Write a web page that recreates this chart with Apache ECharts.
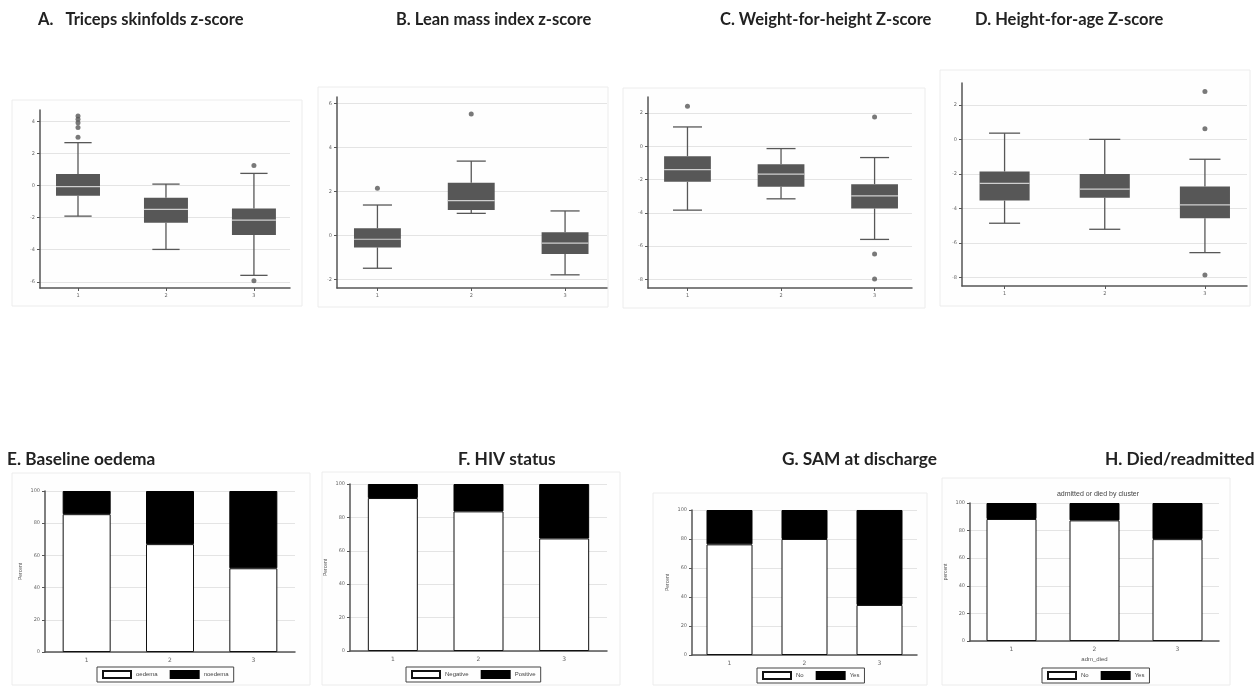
<!DOCTYPE html>
<html>
<head>
<meta charset="utf-8">
<script src="https://cdn.jsdelivr.net/npm/echarts@6/dist/echarts.min.js"></script>
<style>
  html, body { margin: 0; background: #fff; }
  #chart { width: 1260px; height: 690px; }
</style>
</head>
<body>
<div id="chart"></div>
<script>
const clusters = ['1', '2', '3'];
const clusterTicks = [1, 2, 3];

// box plots: [cluster, lower whisker, q1, median, q3, upper whisker]
const tricepsBox = [[1, -1.9, -0.63, -0.06, 0.73, 2.69], [2, -3.98, -2.31, -1.48, -0.75, 0.1], [3, -5.6, -3.08, -2.15, -1.42, 0.77]];
const tricepsOut = [[1, 3.02], [1, 3.63], [1, 3.94], [1, 4.15], [1, 4.35], [3, 1.27], [3, -5.94]];
const leanBox = [[1, -1.5, -0.55, -0.18, 0.32, 1.38], [2, 1.0, 1.15, 1.58, 2.39, 3.38], [3, -1.8, -0.85, -0.36, 0.14, 1.11]];
const leanOut = [[1, 2.14], [2, 5.52]];
const whzBox = [[1, -3.84, -2.14, -1.4, -0.6, 1.16], [2, -3.16, -2.44, -1.68, -1.08, -0.14], [3, -5.6, -3.74, -2.98, -2.28, -0.68]];
const whzOut = [[1, 2.4], [3, 1.76], [3, -6.48], [3, -7.98]];
const hazBox = [[1, -4.85, -3.54, -2.54, -1.86, 0.36], [2, -5.2, -3.37, -2.88, -2.0, 0.0], [3, -6.55, -4.56, -3.79, -2.73, -1.15]];
const hazOut = [[3, 2.77], [3, 0.61], [3, -7.85]];

const tricepsTicks = [-6, -4, -2, 0, 2, 4];
const leanTicks = [-2, 0, 2, 4, 6];
const whzTicks = [-8, -6, -4, -2, 0, 2];
const hazTicks = [-8, -6, -4, -2, 0, 2];

// stacked percentages (white part, black part)
const oedemaNo = [85.6, 67.0, 52.0];
const oedemaYes = [14.4, 33.0, 48.0];
const hivNeg = [91.6, 83.6, 67.4];
const hivPos = [8.4, 16.4, 32.6];
const samNo = [76.3, 80.0, 34.5];
const samYes = [23.7, 20.0, 65.5];
const diedNo = [88.4, 87.4, 73.8];
const diedYes = [11.6, 12.6, 26.2];

const BOX = '#575757';
const GRID = '#e4e4e4';
const AXIS = '#555';

const boxPanels = [
  { title: 'A.   Triceps skinfolds z-score', tx: 38, grid: { left: 40, top: 110, width: 250, height: 178 }, x: [0.568, 3.41], y: [-6.39, 4.73], ticks: tricepsTicks, box: tricepsBox, out: tricepsOut },
  { title: 'B. Lean mass index z-score', tx: 396, grid: { left: 337, top: 97, width: 270, height: 191 }, x: [0.569, 3.447], y: [-2.4, 6.3], ticks: leanTicks, box: leanBox, out: leanOut },
  { title: 'C. Weight-for-height Z-score', tx: 720, grid: { left: 648, top: 97, width: 264, height: 191 }, x: [0.578, 3.40], y: [-8.52, 2.96], ticks: whzTicks, box: whzBox, out: whzOut },
  { title: 'D. Height-for-age Z-score', tx: 975, grid: { left: 962, top: 83, width: 285, height: 203 }, x: [0.575, 3.42], y: [-8.48, 3.26], ticks: hazTicks, box: hazBox, out: hazOut }
];

const barPanels = [
  { title: 'E. Baseline oedema', tx: 7, grid: { left: 45, top: 491, width: 250, height: 161 }, barWidth: 48, names: ['oedema', 'noedema'], white: oedemaNo, black: oedemaYes, yName: 'Percent', legend: { left: 97, top: 667 } },
  { title: 'F. HIV status', tx: 458, grid: { left: 350, top: 484, width: 257, height: 167 }, barWidth: 50, names: ['Negative', 'Positive'], white: hivNeg, black: hivPos, yName: 'Percent', legend: { left: 406, top: 667 } },
  { title: 'G. SAM at discharge', tx: 782, grid: { left: 692, top: 510, width: 225, height: 145 }, barWidth: 46, names: ['No', 'Yes'], white: samNo, black: samYes, yName: 'Percent', legend: { left: 757, top: 668 } },
  { title: 'H. Died/readmitted', tx: 1105, grid: { left: 970, top: 503, width: 249, height: 138 }, barWidth: 50, names: ['No', 'Yes'], white: diedNo, black: diedYes, yName: 'percent', xName: 'adm_died', legend: { left: 1042, top: 668 } }
];

// faint panel frames
const frames = [
  [12, 100, 290, 206], [318, 87, 290, 220], [623, 88, 302, 220], [940, 70, 310, 236],
  [12, 473, 298, 212], [322, 472, 298, 213], [653, 493, 274, 192], [942, 478, 288, 207]
];

function renderBox(params, api) {
  const x = api.value(0);
  const unit = api.size([1, 0])[0];
  const bw = unit * 0.5, cw = unit * 0.31;
  const lo = api.coord([x, api.value(1)]);
  const q1 = api.coord([x, api.value(2)]);
  const md = api.coord([x, api.value(3)]);
  const q3 = api.coord([x, api.value(4)]);
  const hi = api.coord([x, api.value(5)]);
  const cx = lo[0];
  const line = { stroke: BOX, lineWidth: 1.3 };
  return {
    type: 'group',
    children: [
      { type: 'line', shape: { x1: cx, y1: hi[1], x2: cx, y2: q3[1] }, style: line },
      { type: 'line', shape: { x1: cx, y1: q1[1], x2: cx, y2: lo[1] }, style: line },
      { type: 'line', shape: { x1: cx - cw / 2, y1: hi[1], x2: cx + cw / 2, y2: hi[1] }, style: line },
      { type: 'line', shape: { x1: cx - cw / 2, y1: lo[1], x2: cx + cw / 2, y2: lo[1] }, style: line },
      { type: 'rect', shape: { x: cx - bw / 2, y: q3[1], width: bw, height: q1[1] - q3[1] }, style: { fill: BOX } },
      { type: 'line', shape: { x1: cx - bw / 2, y1: md[1], x2: cx + bw / 2, y2: md[1] }, style: { stroke: '#cfcfcf', lineWidth: 1.2 } }
    ]
  };
}

const grids = [], xAxes = [], yAxes = [], series = [], titles = [], legends = [];
const smallLabel = { fontSize: 5, color: '#666', fontFamily: 'DejaVu Sans' };
const titleFont = { fontFamily: 'Lato', fontWeight: 'bold', color: '#222' };

boxPanels.forEach((p, i) => {
  grids.push(p.grid);
  titles.push({ text: p.title, left: p.tx, top: 11, padding: 0, textStyle: { ...titleFont, fontSize: 16.5 } });
  xAxes.push({
    type: 'value', gridIndex: i, min: p.x[0], max: p.x[1],
    axisLine: { onZero: false, lineStyle: { color: AXIS, width: 1.5 } },
    axisTick: { customValues: clusterTicks, length: 3, lineStyle: { color: AXIS } },
    axisLabel: { customValues: clusterTicks, ...smallLabel, margin: 5 },
    splitLine: { show: false }
  });
  yAxes.push({
    type: 'value', gridIndex: i, min: p.y[0], max: p.y[1],
    axisLine: { show: true, onZero: false, lineStyle: { color: AXIS, width: 1.5 } },
    axisTick: { show: true, customValues: p.ticks, length: 3, lineStyle: { color: AXIS } },
    axisLabel: { customValues: p.ticks, ...smallLabel, margin: 5 },
    splitLine: { show: true, lineStyle: { color: GRID, width: 1 } }
  });
  series.push({ type: 'custom', xAxisIndex: i, yAxisIndex: i, renderItem: renderBox, data: p.box, encode: { x: 0, y: [1, 2, 3, 4, 5] }, silent: true });
  series.push({ type: 'scatter', xAxisIndex: i, yAxisIndex: i, data: p.out, symbolSize: 5, itemStyle: { color: BOX }, silent: true });
});

barPanels.forEach((p, j) => {
  const i = j + boxPanels.length;
  grids.push(p.grid);
  titles.push({ text: p.title, left: p.tx, top: 451, padding: 0, textStyle: { ...titleFont, fontSize: 17.3 } });
  xAxes.push({
    type: 'category', gridIndex: i, data: clusters,
    name: p.xName || '', nameLocation: 'middle', nameGap: 15, nameTextStyle: { fontSize: 6, color: '#555' },
    axisLine: { lineStyle: { color: AXIS, width: 1.5 } },
    axisTick: { alignWithLabel: true, length: 3, lineStyle: { color: AXIS } },
    axisLabel: { ...smallLabel, fontSize: 6, margin: 5 }
  });
  yAxes.push({
    type: 'value', gridIndex: i, min: 0, max: 100, interval: 20,
    name: p.yName, nameLocation: 'middle', nameGap: 22, nameRotate: 90, nameTextStyle: { fontSize: 5, color: '#555' },
    axisLine: { show: true, lineStyle: { color: AXIS, width: 1.5 } },
    axisTick: { show: true, length: 3, lineStyle: { color: AXIS } },
    axisLabel: { ...smallLabel, margin: 5 },
    splitLine: { show: true, lineStyle: { color: GRID, width: 1 } }
  });
  const stack = 'st' + i;
  series.push({ type: 'bar', name: p.names[0], xAxisIndex: i, yAxisIndex: i, stack, barWidth: p.barWidth, data: p.white, itemStyle: { color: '#fff', borderColor: '#111', borderWidth: 1 } });
  series.push({ type: 'bar', name: p.names[1], xAxisIndex: i, yAxisIndex: i, stack, barWidth: p.barWidth, data: p.black, itemStyle: { color: '#000', borderColor: '#000', borderWidth: 1 } });
  legends.push({
    left: p.legend.left, top: p.legend.top, data: p.names, icon: 'rect',
    itemWidth: 28, itemHeight: 7, itemGap: 12, padding: [3, 5],
    borderColor: '#444', borderWidth: 1, selectedMode: false,
    textStyle: { fontSize: 6, color: '#444' }
  });
});

titles.push({ text: 'admitted or died by cluster', left: 1093, top: 486, textAlign: 'center', textStyle: { fontSize: 7, fontWeight: 'normal', color: '#444' } });

const chart = echarts.init(document.getElementById('chart'));
chart.setOption({
  backgroundColor: '#fff',
  animation: false,
  title: titles,
  legend: legends,
  grid: grids,
  xAxis: xAxes,
  yAxis: yAxes,
  series: series,
  graphic: frames.map(f => ({
    type: 'rect', z: -10, silent: true,
    shape: { x: f[0], y: f[1], width: f[2], height: f[3] },
    style: { fill: '#fefefe', stroke: '#ececec', lineWidth: 1 }
  }))
});
</script>
</body>
</html>
